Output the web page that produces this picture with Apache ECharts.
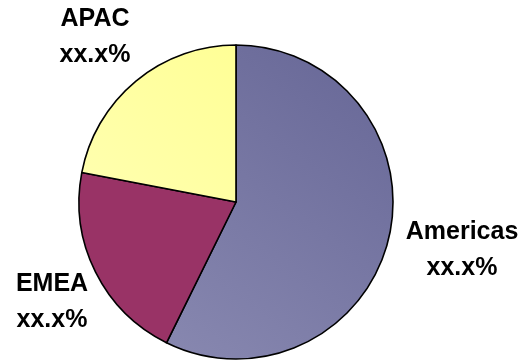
<!DOCTYPE html>
<html>
<head>
<meta charset="utf-8">
<script src="https://cdn.jsdelivr.net/npm/echarts@6/dist/echarts.min.js"></script>
<style>
  html, body { margin: 0; padding: 0; background: #ffffff; }
  #chart { width: 529px; height: 364px; }
</style>
</head>
<body>
<div id="chart"></div>
<script>
// Regional share of the total, clockwise from 12 o'clock
const regions = ['Americas', 'EMEA', 'APAC'];
const shares = [57.3, 20.7, 22.0];
const shareText = ['xx.x%', 'xx.x%', 'xx.x%'];

// Slice fills: Americas is a soft diagonal gradient
const sliceFills = {
  Americas: new echarts.graphic.LinearGradient(1, 0, 0, 1, [
    { offset: 0, color: '#666696' },
    { offset: 1, color: '#8888b0' }
  ]),
  EMEA: '#993366',
  APAC: new echarts.graphic.LinearGradient(1, 0, 0, 1, [
    { offset: 0, color: '#ffff96' },
    { offset: 1, color: '#ffffb0' }
  ])
};

// Where each two-line label sits (centre of the label block)
const labelSpots = {
  Americas: [462, 250],
  EMEA: [52, 302],
  APAC: [95, 37]
};

const chart = echarts.init(document.getElementById('chart'), null, { renderer: 'canvas' });

chart.setOption({
  animation: false,
  backgroundColor: '#ffffff',
  series: [{
    type: 'pie',
    center: [236, 202],
    radius: 157,
    startAngle: 90,
    clockwise: true,
    data: regions.map((name, i) => ({
      name: name,
      value: shares[i],
      itemStyle: { color: sliceFills[name] }
    })),
    itemStyle: { borderColor: '#000000', borderWidth: 1.6 },
    emphasis: { disabled: true },
    label: {
      show: true,
      position: 'outside',
      overflow: 'none',
      formatter: p => p.name + '\n' + shareText[p.dataIndex],
      fontFamily: 'Liberation Sans, Arial, sans-serif',
      fontWeight: 'bold',
      fontSize: 25,
      lineHeight: 36,
      color: '#000000',
      align: 'center'
    },
    labelLine: { show: false },
    labelLayout: function (params) {
      const name = regions[params.dataIndex];
      const spot = labelSpots[name];
      return { x: spot[0], y: spot[1], align: 'center', verticalAlign: 'middle' };
    }
  }]
});
</script>
</body>
</html>
